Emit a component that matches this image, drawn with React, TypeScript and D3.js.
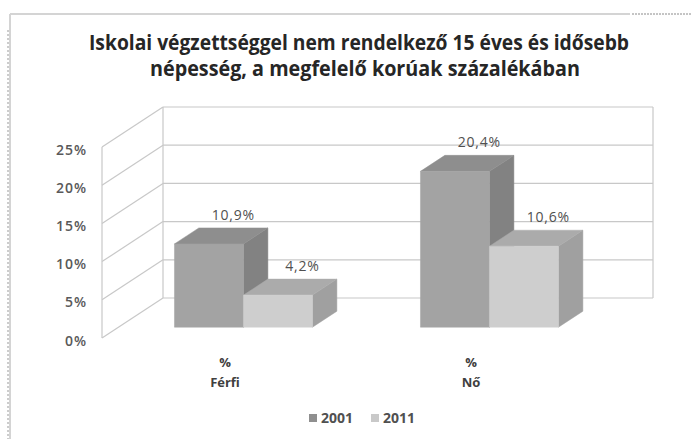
import React from "react";
import * as d3 from "d3";

const categories = ["Férfi", "Nő"];
const categoryPrefix = "%";
const seriesNames = ["2001", "2011"];
const values2001 = [10.9, 20.4];
const values2011 = [4.2, 10.6];
const labels2001 = ["10,9%", "20,4%"];
const labels2011 = ["4,2%", "10,6%"];
const yTicks = [0, 5, 10, 15, 20, 25];
const titleLines = [
  "Iskolai végzettséggel nem rendelkező 15 éves és idősebb",
  "népesség, a megfelelő korúak százalékában",
];

const W = 695;
const H = 439;
const DX = 61;
const DY = 40;
const Z_FRONT = 0.27;
const Z_BACK = 0.67;
const BAR_W = 69;

const faceColors = [
  { front: "#a3a3a3", top: "#8e8e8e", side: "#828282" },
  { front: "#cecece", top: "#ababab", side: "#a0a0a0" },
];
const legendColors = ["#8f8f8f", "#c9c9c9"];

export default function App() {
  const yFront = d3.scaleLinear().domain([0, 25]).range([338, 147]);
  const xFloor = d3.scaleLinear().domain([0, 1]).range([102, 592]);
  const xBand = d3.scaleBand<string>().domain(categories).range([104, 596]);
  const proj = (x: number, v: number, z: number): [number, number] => [
    x + z * DX,
    yFront(v) - z * DY,
  ];
  const pts = (arr: [number, number][]) => arr.map((p) => p.join(",")).join(" ");

  const series = [values2001, values2011];
  const labels = [labels2001, labels2011];

  const bars: JSX.Element[] = [];
  const texts: JSX.Element[] = [];
  categories.forEach((cat, ci) => {
    const cx = (xBand(cat) as number) + xBand.bandwidth() / 2;
    series.forEach((vals, si) => {
      const v = vals[ci];
      const x0 = cx - BAR_W + si * BAR_W;
      const x1 = x0 + BAR_W;
      const c = faceColors[si];
      const front = pts([proj(x0, 0, Z_FRONT), proj(x1, 0, Z_FRONT), proj(x1, v, Z_FRONT), proj(x0, v, Z_FRONT)]);
      const top = pts([proj(x0, v, Z_FRONT), proj(x1, v, Z_FRONT), proj(x1, v, Z_BACK), proj(x0, v, Z_BACK)]);
      const side = pts([proj(x1, 0, Z_FRONT), proj(x1, v, Z_FRONT), proj(x1, v, Z_BACK), proj(x1, 0, Z_BACK)]);
      bars.push(
        <g key={`b${ci}${si}`}>
          <polygon points={side} fill={c.side} stroke={c.side} strokeWidth={0.5} />
          <polygon points={top} fill={c.top} stroke={c.top} strokeWidth={0.5} />
          <polygon points={front} fill={c.front} stroke={c.front} strokeWidth={0.5} />
        </g>
      );
      const [lx, ly] = proj((x0 + x1) / 2, v, Z_BACK);
      texts.push(
        <text key={`l${ci}${si}`} x={lx} y={ly - 8} textAnchor="middle" fontSize={14}
          fontFamily="'Open Sans', sans-serif" fill="#505050" letterSpacing={0.8}>
          {labels[si][ci]}
        </text>
      );
    });
  });

  return (
    <svg width={W} height={H} style={{ position: "absolute", left: 0, top: 0, background: "#fff" }}>
      {/* frame */}
      <line x1={10} y1={14} x2={630} y2={14} stroke="#d4d4d4" strokeWidth={2} />
      <line x1={632} y1={14} x2={692} y2={14} stroke="#8a8a8a" strokeWidth={1} strokeDasharray="2,1" />
      <line x1={10} y1={14} x2={10} y2={H} stroke="#d4d4d4" strokeWidth={2} />
      <line x1={8} y1={30} x2={8} y2={H} stroke="#9a9a9a" strokeWidth={1} strokeDasharray="2,2" />

      {/* title */}
      {titleLines.map((t, i) => (
        <text key={t} x={i === 0 ? 359 : 365} y={i === 0 ? 50 : 76} textAnchor="middle" fontSize={21}
          fontWeight={700} fontFamily="'Open Sans', sans-serif" fill="#262626"
          textLength={i === 0 ? 540 : 430} lengthAdjust="spacingAndGlyphs">
          {t}
        </text>
      ))}

      {/* back wall */}
      {yTicks.map((t) => {
        const [ax, ay] = proj(xFloor(0), t, 1);
        const [bx] = proj(xFloor(1), t, 1);
        const [fx, fy] = proj(xFloor(0), t, 0);
        return (
          <g key={`g${t}`}>
            <line x1={ax} y1={ay} x2={bx} y2={ay} stroke="#c8c8c8" strokeWidth={1.2} />
            <line x1={fx} y1={fy} x2={ax} y2={ay} stroke="#c8c8c8" strokeWidth={1.2} />
          </g>
        );
      })}
      {(() => {
        const [ax, ay0] = proj(xFloor(0), 0, 1);
        const [, ay1] = proj(xFloor(0), 25, 1);
        const [bx] = proj(xFloor(1), 0, 1);
        const [fx, fy0] = proj(xFloor(0), 0, 0);
        const [, fy1] = proj(xFloor(0), 25, 0);
        return (
          <g>
            <line x1={ax} y1={ay0} x2={ax} y2={ay1} stroke="#c8c8c8" strokeWidth={1.2} />
            <line x1={bx} y1={ay0} x2={bx} y2={ay1} stroke="#c8c8c8" strokeWidth={1.2} />
            <line x1={fx} y1={fy0} x2={fx} y2={fy1} stroke="#c8c8c8" strokeWidth={1.2} />
          </g>
        );
      })()}

      {/* y tick labels */}
      {yTicks.map((t) => (
        <text key={`t${t}`} x={87} y={yFront(t) + 2} textAnchor="end" dominantBaseline="central"
          fontSize={14} fontWeight={600} fontFamily="'Open Sans', sans-serif" fill="#595959" letterSpacing={1}>
          {`${t}%`}
        </text>
      ))}

      {bars}
      {texts}

      {/* category labels */}
      {categories.map((c) => {
        const cx = (xBand(c) as number) + xBand.bandwidth() / 2 - 2;
        return (
          <g key={`c${c}`} fontSize={13} fontWeight={700} fontFamily="'Open Sans', sans-serif" fill="#404040" textAnchor="middle">
            <text x={cx} y={367}>{categoryPrefix}</text>
            <text x={cx} y={387}>{c}</text>
          </g>
        );
      })}

      {/* legend */}
      {seriesNames.map((s, i) => (
        <g key={`lg${s}`} transform={`translate(${309 + i * 62},0)`}>
          <rect x={0} y={414} width={8} height={8} fill={legendColors[i]} />
          <text x={12} y={423} fontSize={14} fontWeight={700} fontFamily="'Open Sans', sans-serif" fill="#505050">
            {s}
          </text>
        </g>
      ))}
    </svg>
  );
}
